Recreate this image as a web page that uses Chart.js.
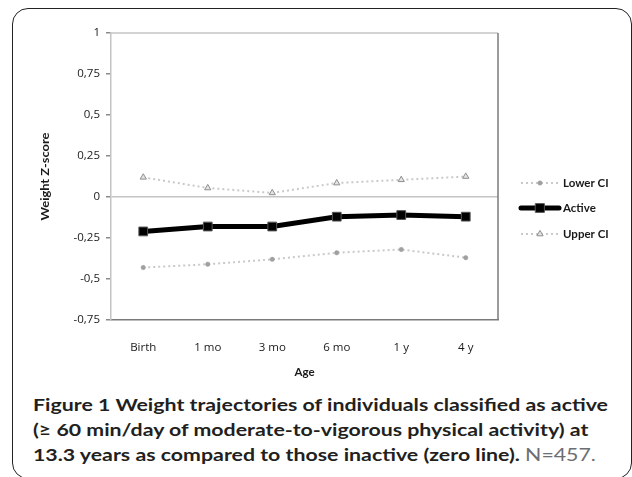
<!DOCTYPE html>
<html>
<head>
<meta charset="utf-8">
<script src="https://cdn.jsdelivr.net/npm/chart.js@4.4.1/dist/chart.umd.min.js"></script>
<style>
  body { margin: 0; background: #fff; width: 632px; height: 477px; overflow: hidden; position: relative; font-family: Lato, sans-serif; }
  #frame { position: absolute; left: 12px; top: 8px; width: 620px; height: 471px; border: 1.5px solid #222; border-radius: 16px; box-sizing: border-box; }
  #chart { position: absolute; left: 0; top: 0; }
  #caption { position: absolute; left: 33px; top: 392px; font-size: 17px; line-height: 25px; font-weight: 700; color: #231f20; white-space: nowrap; transform-origin: 0 0; }
  #caption .n { font-weight: 400; color: #6d6e71; }
</style>
</head>
<body>
<div id="frame"></div>
<canvas id="chart" width="632" height="385"></canvas>
<div id="caption"><span id="cap1">Figure 1 Weight trajectories of individuals classified as active</span><br>(&ge; 60 min/day of moderate-to-vigorous physical activity) at<br>13.3 years as compared to those inactive (zero line). <span class="n">N=457.</span></div>
<script>
const ages = ['Birth', '1 mo', '3 mo', '6 mo', '1 y', '4 y'];
const lowerCI = [-0.43, -0.41, -0.38, -0.34, -0.32, -0.37];
const active = [-0.21, -0.18, -0.18, -0.12, -0.11, -0.12];
const upperCI = [0.12, 0.055, 0.025, 0.085, 0.105, 0.125];
const yTicks = [-0.75, -0.5, -0.25, 0, 0.25, 0.5, 0.75, 1];

const FONT = 'Lato, "Open Sans", sans-serif';
const TICKFONT = '"Open Sans", Lato, sans-serif';

// the original is stretched sideways, so widen the caption to the same line length
const cap1 = document.getElementById('cap1');
document.getElementById('caption').style.transform = 'scaleX(' + (575 / cap1.getBoundingClientRect().width) + ')';

// box round the plot: light top/left, darker right/bottom
const plotBox = {
    id: 'plotBox',
    afterDraw(chart) {
        const { ctx, chartArea: a } = chart;
        ctx.save();
        ctx.lineWidth = 1.5;
        ctx.strokeStyle = '#c4c4c4';
        ctx.beginPath();
        ctx.moveTo(a.left, a.top); ctx.lineTo(a.right, a.top);
        ctx.stroke();
        ctx.strokeStyle = '#7a7a7a';
        ctx.beginPath();
        ctx.moveTo(a.right, a.top); ctx.lineTo(a.right, a.bottom);
        ctx.stroke();
        ctx.restore();
    }
};

// rotated y title, fitted to the length it has in the original
const yTitle = {
    id: 'yTitle',
    afterDraw(chart) {
        const ctx = chart.ctx;
        const a = chart.chartArea;
        ctx.save();
        ctx.font = 'bold 12px ' + FONT;
        const w = ctx.measureText('Weight Z-score').width;
        ctx.translate(45, (a.top + a.bottom) / 2);
        ctx.rotate(-Math.PI / 2);
        ctx.scale(88 / w, 1);
        ctx.fillStyle = '#1a1a1a';
        ctx.textAlign = 'center';
        ctx.textBaseline = 'middle';
        ctx.fillText('Weight Z-score', 0, 0);
        ctx.restore();
    }
};

// Excel-like legend: line sample with the marker in the middle
const sideLegend = {
    id: 'sideLegend',
    afterDraw(chart) {
        const ctx = chart.ctx;
        const rows = [183, 208, 234];
        chart.data.datasets.forEach((ds, i) => {
            const y = rows[i];
            ctx.save();
            ctx.strokeStyle = ds.borderColor;
            ctx.lineWidth = ds.borderWidth;
            ctx.setLineDash(ds.borderDash || []);
            ctx.lineCap = ds.borderDash ? 'butt' : 'round';
            ctx.beginPath();
            ctx.moveTo(521, y); ctx.lineTo(559, y);
            ctx.stroke();
            ctx.setLineDash([]);
            ctx.fillStyle = ds.pointBackgroundColor;
            ctx.strokeStyle = ds.pointBorderColor;
            ctx.lineWidth = ds.pointBorderWidth;
            Chart.helpers.drawPoint(ctx, { pointStyle: ds.pointStyle, radius: ds.pointRadius, borderWidth: ds.pointBorderWidth, rotation: 0 }, 540, y);
            ctx.font = 'bold 11.5px ' + FONT;
            ctx.fillStyle = '#1a1a1a';
            ctx.textAlign = 'left';
            ctx.textBaseline = 'middle';
            ctx.fillText(ds.label, 563, y);
            ctx.restore();
        });
    }
};

new Chart(document.getElementById('chart'), {
    type: 'line',
    data: {
        labels: ages,
        datasets: [
            {
                label: 'Lower CI',
                data: lowerCI,
                borderColor: '#c9c9c9',
                borderWidth: 2,
                borderDash: [2, 3],
                pointStyle: 'circle',
                pointRadius: 2.2,
                pointBackgroundColor: '#a0a0a0',
                pointBorderColor: '#a0a0a0',
                pointBorderWidth: 0.5
            },
            {
                label: 'Active',
                data: active,
                borderColor: '#000',
                borderWidth: 5,
                pointStyle: 'rect',
                pointRadius: 6.2,
                pointBackgroundColor: '#000',
                pointBorderColor: '#555',
                pointBorderWidth: 1
            },
            {
                label: 'Upper CI',
                data: upperCI,
                borderColor: '#c9c9c9',
                borderWidth: 2,
                borderDash: [2, 3],
                pointStyle: 'triangle',
                pointRadius: 3.6,
                pointBackgroundColor: '#e4e4e4',
                pointBorderColor: '#8e8e8e',
                pointBorderWidth: 1
            }
        ]
    },
    options: {
        responsive: false,
        animation: false,
        devicePixelRatio: 1,
        layout: { padding: { left: 0, right: 134, top: 33, bottom: 0 } },
        plugins: { legend: { display: false }, tooltip: { enabled: false } },
        elements: { line: { tension: 0 } },
        scales: {
            x: {
                offset: true,
                grid: { display: false },
                border: { display: true, color: '#7a7a7a', width: 1.5 },
                ticks: { color: '#1a1a1a', font: { family: TICKFONT, size: 11.5 }, padding: 13 },
                title: { display: true, text: 'Age', color: '#1a1a1a', font: { family: FONT, size: 11.5, weight: 'bold' }, padding: { top: 6, bottom: 6 } },
                afterFit(scale) { scale.height = 65; }
            },
            y: {
                min: -0.75,
                max: 1,
                afterBuildTicks(scale) { scale.ticks = yTicks.map(v => ({ value: v })); },
                grid: {
                    color: c => (c.tick && c.tick.value === 0) ? '#c4c4c4' : 'rgba(0,0,0,0)',
                    lineWidth: 1.5,
                    tickColor: '#8a8a8a',
                    tickLength: 5
                },
                border: { display: true, color: '#c4c4c4', width: 1.5 },
                ticks: {
                    color: '#1a1a1a',
                    font: { family: TICKFONT, size: 11.5 },
                    padding: 6,
                    callback: v => String(v).replace('.', ',')
                },
                afterFit(scale) { scale.width = 111; }
            }
        }
    },
    plugins: [plotBox, yTitle, sideLegend]
});
</script>
</body>
</html>
